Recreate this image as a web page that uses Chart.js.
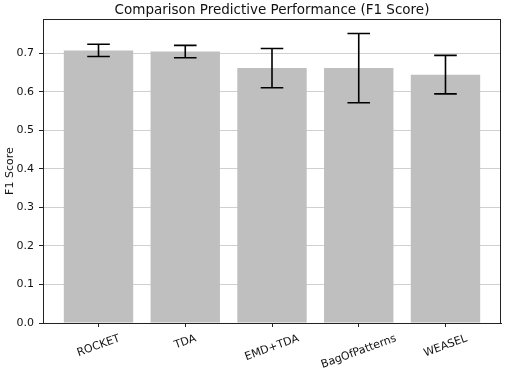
<!DOCTYPE html>
<html>
<head>
<meta charset="utf-8">
<script src="https://cdn.jsdelivr.net/npm/chart.js@4"></script>
<style>
  html, body { margin: 0; padding: 0; background: #fff; }
  #wrap { width: 505px; height: 371px; }
</style>
</head>
<body>
<div id="wrap"><canvas id="myChart" width="505" height="371"></canvas></div>
<script>
// Data
const categories = ['ROCKET', 'TDA', 'EMD+TDA', 'BagOfPatterns', 'WEASEL'];
const f1Mean = [0.708, 0.705, 0.662, 0.662, 0.645];
const f1Err = [0.016, 0.016, 0.051, 0.090, 0.050];
const yTicks = [0.0, 0.1, 0.2, 0.3, 0.4, 0.5, 0.6, 0.7];

const FONT = "'DejaVu Sans', sans-serif";

// Error bars, frame and rotated category labels
const extrasPlugin = {
    id: 'extras',
    afterDatasetsDraw(chart) {
        const ctx = chart.ctx;
        const xs = chart.scales.x;
        const ys = chart.scales.y;
        ctx.save();
        ctx.strokeStyle = '#000';
        ctx.lineWidth = 1.6;
        f1Mean.forEach((m, i) => {
            const x = xs.getPixelForValue(i);
            const top = ys.getPixelForValue(m + f1Err[i]);
            const bot = ys.getPixelForValue(m - f1Err[i]);
            const cap = 11.3;
            ctx.beginPath();
            ctx.moveTo(x, top); ctx.lineTo(x, bot);
            ctx.moveTo(x - cap, top); ctx.lineTo(x + cap, top);
            ctx.moveTo(x - cap, bot); ctx.lineTo(x + cap, bot);
            ctx.stroke();
        });
        ctx.restore();
    },
    afterDraw(chart) {
        const ctx = chart.ctx;
        const a = chart.chartArea;
        const xs = chart.scales.x;
        ctx.save();
        ctx.strokeStyle = '#222';
        ctx.lineWidth = 1;
        ctx.strokeRect(Math.round(a.left) + 0.5, Math.round(a.top) + 0.5,
            Math.round(a.right - a.left) - 1, Math.round(a.bottom - a.top));

        // labels rotated about their centre, like matplotlib rotation=20
        const ang = 20 * Math.PI / 180;
        ctx.font = '11px ' + FONT;
        ctx.fillStyle = '#111';
        ctx.textAlign = 'center';
        ctx.textBaseline = 'middle';
        const topY = a.bottom + 10;
        categories.forEach((c, i) => {
            const w = ctx.measureText(c).width;
            const h = 11;
            const bh = w * Math.sin(ang) + h * Math.cos(ang);
            ctx.save();
            ctx.translate(xs.getPixelForValue(i), topY + bh / 2);
            ctx.rotate(-ang);
            ctx.fillText(c, 0, 0);
            ctx.restore();
        });
        ctx.restore();
    }
};

function drawChart() {
    const ctx = document.getElementById('myChart').getContext('2d');
    new Chart(ctx, {
        type: 'bar',
        data: {
            datasets: [{
                label: 'F1 Score',
                data: f1Mean.map((v, i) => ({ x: i, y: v })),
                backgroundColor: '#bfbfbf',
                borderWidth: 0,
                categoryPercentage: 1.0,
                barPercentage: 0.8
            }]
        },
        options: {
            responsive: false,
            animation: false,
            layout: { padding: { left: 0, right: 4, top: 0, bottom: 0 } },
            scales: {
                x: {
                    type: 'linear',
                    offset: false,
                    min: -0.64,
                    max: categories.length - 1 + 0.64,
                    afterBuildTicks: scale => {
                        scale.ticks = categories.map((_, i) => ({ value: i }));
                    },
                    afterFit: scale => { scale.height = 48; },
                    ticks: { display: false },
                    grid: {
                        offset: false,
                        drawOnChartArea: false,
                        drawTicks: true,
                        tickLength: 4,
                        tickColor: '#222'
                    },
                    border: { display: true, color: '#222' }
                },
                y: {
                    min: 0,
                    max: 0.789,
                    afterBuildTicks: scale => {
                        scale.ticks = yTicks.map(v => ({ value: v }));
                    },
                    afterFit: scale => { scale.width = 43; },
                    ticks: {
                        font: { family: FONT, size: 11 },
                        color: '#111',
                        padding: 5,
                        callback: v => Number(v).toFixed(1)
                    },
                    grid: {
                        color: '#d0d0d0',
                        lineWidth: 1,
                        tickLength: 4,
                        tickColor: '#222'
                    },
                    border: { display: true, color: '#222' },
                    title: {
                        display: true,
                        text: 'F1 Score',
                        font: { family: FONT, size: 11 },
                        color: '#111',
                        padding: { top: 4, bottom: 0 }
                    }
                }
            },
            plugins: {
                legend: { display: false },
                tooltip: { enabled: false },
                title: {
                    display: true,
                    fullSize: false,
                    text: 'Comparison Predictive Performance (F1 Score)',
                    font: { family: FONT, size: 13.5, weight: 'normal', lineHeight: 1.2 },
                    color: '#111',
                    padding: { top: 2, bottom: 1 }
                }
            }
        },
        plugins: [extrasPlugin]
    });
}

drawChart();
</script>
</body>
</html>
